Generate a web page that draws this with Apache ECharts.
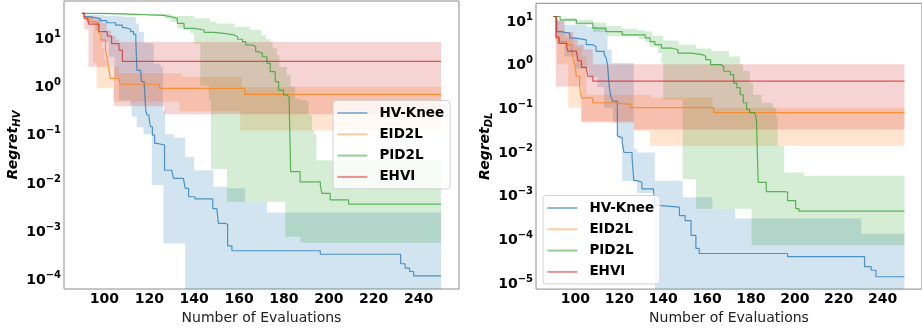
<!DOCTYPE html>
<html>
<head>
<meta charset="utf-8">
<script src="https://cdn.jsdelivr.net/npm/echarts@6/dist/echarts.min.js"></script>
<style>
  html, body { margin: 0; padding: 0; background: #ffffff; }
  #chart { width: 922px; height: 330px; }
</style>
</head>
<body>
<div id="chart"></div>
<script>
// ----- labels and ticks -----
const methods = ['HV-Knee', 'EID2L', 'PID2L', 'EHVI'];
const xTicks = [100, 120, 140, 160, 180, 200, 220, 240];
const yTicksHV = [1e-4, 1e-3, 1e-2, 1e-1, 1, 10];
const yTicksDL = [1e-5, 1e-4, 1e-3, 1e-2, 1e-1, 1, 10];

// ----- Regret_HV: median and band edges, [evaluations, regret] step points -----
const hvKneeMedHV = [[90,31.6],[91,27],[93,24.9],[98,22.3],[101,20.2],[105,18.1],[108,16],[109.5,14.8],[111.7,13.2],[113,11.6],[114,8.9],[114.5,2.1],[116.2,1.96],[116.5,1.22],[117.7,1.13],[118.4,0.32],[119,0.25],[119.9,0.21],[120.5,0.143],[121.4,0.096],[122.4,0.065],[123.4,0.06],[126.8,0.018],[130,0.0168],[130.8,0.0122],[135.2,0.0117],[136,0.0076],[137.5,0.0051],[140.4,0.0046],[148.3,0.0029],[150.1,0.0027],[150.8,0.00144],[153.8,0.00137],[154.9,0.00049],[156.8,0.00039],[196.2,0.00033],[232,0.00021],[234,0.00017],[236,0.000145],[237.8,0.000118],[250,0.000118]];
const hvKneeHiHV = [[90,32],[91,30],[100,28],[108,27],[114,19.6],[115.4,13.2],[117.7,7.6],[122,2.9],[125,2.5],[126.1,0.3],[127,0.1],[131,0.085],[136,0.034],[140,0.018],[148.6,0.0082],[154.6,0.0076],[162.7,0.004],[172.4,0.0024],[250,0.0024]];
const hvKneeLoHV = [[90,31],[91,25],[93,20],[96,14],[99,8],[102,4],[104.5,1.5],[106.5,0.5],[111.5,0.4],[112.2,0.23],[114.4,0.14],[117.4,0.1],[121.1,0.0089],[126.3,0.00055],[136,0.00001],[250,0.00001]];

const eid2lMedHV = [[90,31.6],[91,25],[93,21],[97,19.5],[97.6,12.2],[98.5,8.9],[100.5,5.5],[101.3,3.7],[101.8,2.5],[102.6,1.43],[106.3,1.32],[107,1.08],[124.5,0.89],[162.5,0.67],[250,0.67]];
const eid2lHiHV = [[90,32],[92,27],[95,22],[97.5,12],[99,6],[100,3.5],[101,2.5],[106.5,1.82],[134.5,1.55],[161.3,0.96],[250,0.96]];
const eid2lLoHV = [[90,31],[92,22],[95,3],[96.5,0.89],[104,0.47],[133.5,0.3],[160.5,0.12],[250,0.12]];

const pid2lMedHV = [[90,31.6],[100,30.5],[111.7,29.6],[119,28.7],[126.6,26.9],[129.5,24.9],[132.5,19.6],[135.5,15.5],[140,14.3],[144.4,12.8],[148.9,12.2],[153.3,11.3],[157.8,10.4],[159.3,9.2],[161.5,8.2],[163,7.0],[166,6.5],[167.4,5.1],[168.9,4.7],[170.4,4.0],[172.4,2.92],[173.9,1.97],[176.1,1.22],[177.6,0.82],[179.8,0.65],[181.3,0.6],[182.3,0.51],[183,0.0168],[187.2,0.0104],[196.2,0.0089],[196.9,0.006],[200.6,0.0044],[208.8,0.0036],[250,0.0036]];
const pid2lHiHV = [[90,32],[110,31],[126,30.6],[130,27.8],[140,25],[147,21.2],[150,19.6],[158,16.7],[165,14.3],[170,11.2],[172,9.2],[174,8.2],[175,6.0],[176.9,4.3],[178,2.5],[181.3,1.67],[183,0.96],[185,0.55],[187.3,0.51],[190.2,0.47],[191,0.25],[192.5,0.122],[193.5,0.1],[194.5,0.029],[250,0.027]];
const pid2lLoHV = [[90,31],[100,30],[110,29],[119,27.8],[126.6,24.9],[129.5,21],[132.5,15.5],[135.5,14.3],[138.3,12.2],[140,7.5],[142.7,1.0],[146.5,0.5],[147.5,0.019],[154.6,0.004],[180.6,0.00076],[187.3,0.00057],[250,0.00057]];

const ehviMedHV = [[90,31.6],[91,25],[92.4,22.9],[93,19],[97.6,13.2],[101.3,10.7],[103.2,7.5],[106.5,5.5],[108,3.2],[250,3.2]];
const ehviHiHV = [[90,32],[91,28],[95,25],[99,20],[101,14],[103,11],[105,9],[106.5,8.1],[250,8.1]];
const ehviLoHV = [[90,31],[91,15],[92.9,2.5],[104.3,0.38],[126.6,0.26],[250,0.26]];

// ----- Regret_DL -----
const hvKneeMedDL = [[90,12.4],[91.5,5.6],[93,5.2],[97.4,4.0],[99.7,3.6],[104.9,2.8],[107.9,2.56],[109.4,1.97],[113.1,1.66],[114,1.39],[114.6,0.98],[115.4,0.31],[116.1,0.186],[116.9,0.143],[119.1,0.0228],[119.8,0.0209],[121.3,0.0161],[122.1,0.0095],[125.8,0.0073],[126.6,0.00215],[128.1,0.00197],[130.3,0.00139],[135.5,0.00128],[136.2,0.00058],[137.7,0.00053],[147.4,0.00034],[150,0.00026],[152.7,0.00012],[154.9,0.00006],[156.4,0.000046],[196.7,0.000039],[231.8,0.000023],[234.8,0.000019],[237,0.0000135],[250,0.0000135]];
const hvKneeHiDL = [[90,12.6],[91,10],[95,8.0],[105,7.2],[110,6.8],[113.9,6.0],[114.6,2.15],[116.5,1.07],[126.6,0.0114],[128,0.0095],[136.2,0.00215],[148.9,0.0009],[162.4,0.00049],[172.8,0.00029],[230.3,0.000131],[250,0.000131]];
const hvKneeLoDL = [[90,12.2],[91,3],[95,1.5],[100,0.8],[106,0.5],[110,0.3],[113,0.1],[117,0.046],[119.1,0.019],[121.3,0.0021],[128,0.0011],[136.2,0.000001],[250,0.000001]];

const eid2lMedDL = [[90,12.4],[91,4.0],[92.5,3.3],[96,2.8],[98.2,1.97],[98.9,1.39],[99.7,0.98],[100.4,0.53],[101.9,0.29],[102.7,0.17],[107.9,0.131],[116.9,0.12],[125.1,0.101],[163.1,0.078],[250,0.078]];
const eid2lHiDL = [[90,12.6],[91,6],[95,4],[99,3],[100,2.5],[103,1.5],[105,0.2],[134.7,0.17],[162.4,0.1],[250,0.1]];
const eid2lLoDL = [[90,12.2],[91.5,1.0],[96.7,0.1],[102.7,0.05],[126.6,0.03],[134,0.0135],[250,0.0135]];

const pid2lMedDL = [[90,12.4],[93,10.4],[100.4,8.7],[107.9,6.7],[113.9,5.6],[121.3,4.7],[131.8,4.0],[134,3.3],[136.2,2.8],[139.2,2.35],[143.7,2.15],[146.7,1.8],[152.7,1.66],[157.9,1.52],[159.4,1.27],[161.6,0.98],[166.1,0.9],[167.6,0.69],[170.6,0.58],[172.1,0.37],[173.6,0.29],[175.1,0.2],[176.5,0.131],[178,0.092],[179.5,0.078],[181.8,0.071],[182.5,0.055],[183.3,0.00197],[187,0.00121],[195.2,0.00117],[196.7,0.00075],[200.4,0.00049],[201.9,0.00043],[250,0.00043]];
const pid2lHiDL = [[90,12.6],[95,11.5],[100,10.5],[108,9],[114,7.5],[121,6.5],[128,6],[132,5.6],[135,4.5],[140,3.5],[147,2.8],[155,2.3],[162,2.0],[170,1.5],[175,1.0],[176.5,0.7],[179.5,0.37],[181,0.2],[184.8,0.131],[190,0.1],[191.5,0.06],[192.2,0.0135],[195.2,0.0033],[204.2,0.0028],[250,0.0028]];
const pid2lLoDL = [[90,12.2],[95,9.5],[100,8],[108,5.5],[114.6,4.4],[128.8,3.8],[131.8,3.2],[134,2.5],[137.7,1.8],[139.2,1.07],[140,0.156],[148.9,0.00235],[154.9,0.00049],[180.3,0.000071],[250,0.000071]];

const ehviMedDL = [[90,12.4],[91.2,4.2],[92.5,3.0],[96,2.6],[96.5,2.0],[100.4,1.8],[101.2,1.2],[102.7,0.85],[104.9,0.8],[105.6,0.53],[107.9,0.41],[250,0.41]];
const ehviHiDL = [[90,12.6],[91,10],[95,5.5],[99,4],[101,2.8],[104,2.2],[107.9,1.0],[250,1.0]];
const ehviLoDL = [[90,12.2],[91,0.31],[102.7,0.046],[126.6,0.032],[250,0.032]];

// ----- styling -----
const lineColors = ['#1f77b4', '#ff7f0e', '#2ca02c', '#d62728'];
const bandColors = ['rgba(31,119,180,0.2)', 'rgba(255,127,14,0.2)', 'rgba(44,160,44,0.2)', 'rgba(214,39,40,0.2)'];
const legendColors = ['rgba(31,119,180,0.5)', 'rgba(255,127,14,0.4)', 'rgba(44,160,44,0.5)', 'rgba(214,39,40,0.5)'];
const FONT = 'DejaVu Sans';

const panels = [
  { med: [hvKneeMedHV, eid2lMedHV, pid2lMedHV, ehviMedHV],
    hi:  [hvKneeHiHV,  eid2lHiHV,  pid2lHiHV,  ehviHiHV],
    lo:  [hvKneeLoHV,  eid2lLoHV,  pid2lLoHV,  ehviLoHV] },
  { med: [hvKneeMedDL, eid2lMedDL, pid2lMedDL, ehviMedDL],
    hi:  [hvKneeHiDL,  eid2lHiDL,  pid2lHiDL,  ehviHiDL],
    lo:  [hvKneeLoDL,  eid2lLoDL,  pid2lLoDL,  ehviLoDL] }
];

// shaded band between two step curves, drawn as one polygon
function bandSeries(axisIdx, k, hi, lo) {
  return {
    type: 'custom',
    name: methods[k] + ' range',
    xAxisIndex: axisIdx, yAxisIndex: axisIdx,
    clip: true, silent: true, z: 1,
    data: [[170, 1]],
    renderItem: function (params, api) {
      const pts = [];
      for (let i = 0; i < hi.length; i++) {
        pts.push(api.coord([hi[i][0], hi[i][1]]));
        if (i + 1 < hi.length) pts.push(api.coord([hi[i + 1][0], hi[i][1]]));
      }
      for (let i = lo.length - 1; i >= 0; i--) {
        if (i + 1 < lo.length) pts.push(api.coord([lo[i + 1][0], lo[i][1]]));
        pts.push(api.coord([lo[i][0], lo[i][1]]));
      }
      return { type: 'polygon', shape: { points: pts }, style: { fill: bandColors[k], stroke: null } };
    }
  };
}

function lineSeries(axisIdx, k, pts) {
  return {
    type: 'line', name: methods[k],
    xAxisIndex: axisIdx, yAxisIndex: axisIdx,
    data: pts, step: 'end', showSymbol: false, silent: true, z: 2,
    color: lineColors[k],
    lineStyle: { width: 1.2, color: lineColors[k], opacity: 0.75 }
  };
}

function sup(e) { return e < 0 ? '\u2212' + Math.abs(e) : String(e); }
function powerLabel(v) {
  const e = Math.round(Math.log10(v));
  return '{b|10}{s|' + sup(e) + '}';
}
const tickRich = {
  b: { fontFamily: FONT, fontWeight: 'bold', fontSize: 14, color: '#000', lineHeight: 17, verticalAlign: 'bottom' },
  s: { fontFamily: FONT, fontWeight: 'bold', fontSize: 10, color: '#000', lineHeight: 10, verticalAlign: 'top' }
};
const nameRich = {
  r: { fontFamily: FONT, fontWeight: 'bold', fontStyle: 'italic', fontSize: 14, color: '#000', lineHeight: 16, verticalAlign: 'top' },
  u: { fontFamily: FONT, fontWeight: 'bold', fontStyle: 'italic', fontSize: 10, color: '#000', lineHeight: 10, verticalAlign: 'bottom' }
};

const grids = [
  { left: 64, top: 1, width: 395, height: 288 },
  { left: 536, top: 3.3, width: 393, height: 287.7 }
];
const yRanges = [[6.31e-5, 56.9], [7.03e-6, 24.9]];
const yTickSets = [yTicksHV, yTicksDL];
const yNames = ['{r|Regret}{u|HV}', '{r|Regret}{u|DL}'];

const option = {
  animation: false,
  backgroundColor: '#ffffff',
  grid: grids.map(g => Object.assign({ show: true, borderColor: '#8c8c8c', borderWidth: 1, backgroundColor: 'transparent' }, g)),
  xAxis: grids.map((g, i) => ({
    type: 'value', gridIndex: i, min: 82, max: 258,
    axisLine: { show: false }, axisTick: { show: false }, splitLine: { show: false },
    axisLabel: { customValues: xTicks, margin: 3, fontFamily: FONT, fontWeight: 'bold', fontSize: 14, color: '#000' },
    name: 'Number of Evaluations', nameLocation: 'middle', nameGap: 18,
    nameTextStyle: { fontFamily: FONT, fontSize: 14, color: '#222' }
  })),
  yAxis: grids.map((g, i) => ({
    type: 'log', logBase: 10, gridIndex: i, min: yRanges[i][0], max: yRanges[i][1],
    axisLine: { show: false }, axisTick: { show: false }, splitLine: { show: false },
    axisLabel: { customValues: yTickSets[i], formatter: powerLabel, margin: 3, rich: tickRich },
    name: yNames[i], nameLocation: 'middle', nameGap: 39, nameRotate: 90,
    nameTextStyle: { rich: nameRich }
  })),
  legend: [
    { left: 333, top: 100.5 },
    { left: 543, top: 195.5 }
  ].map(p => ({
    left: p.left, top: p.top, orient: 'vertical',
    data: methods.map((m, k) => ({ name: m, itemStyle: { color: legendColors[k] } })),
    icon: 'rect', itemWidth: 30, itemHeight: 2, itemGap: 5.3,
    padding: [4.5, 6, 4, 4.4],
    backgroundColor: 'rgba(255,255,255,0.8)', borderColor: 'rgba(204,204,204,0.9)', borderWidth: 1, borderRadius: 3,
    selectedMode: false,
    textStyle: { fontFamily: FONT, fontWeight: 'bold', fontSize: 13.5, color: '#000', lineHeight: 16, padding: [0, 0, 0, 7] }
  })),
  series: []
};

panels.forEach((p, axisIdx) => {
  for (let k = 0; k < methods.length; k++) {
    option.series.push(bandSeries(axisIdx, k, p.hi[k], p.lo[k]));
  }
  for (let k = 0; k < methods.length; k++) {
    option.series.push(lineSeries(axisIdx, k, p.med[k]));
  }
});

const chart = echarts.init(document.getElementById('chart'), null, { renderer: 'canvas' });
chart.setOption(option);
</script>
</body>
</html>
